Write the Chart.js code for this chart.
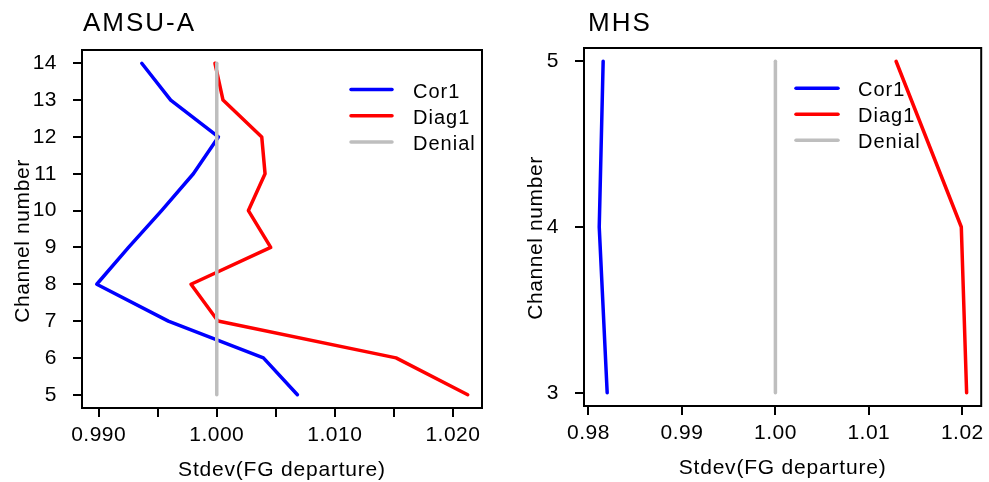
<!DOCTYPE html>
<html>
<head>
<meta charset="utf-8">
<script src="https://cdn.jsdelivr.net/npm/chart.js@4.4.1/dist/chart.umd.min.js"></script>
<style>
  html, body { margin: 0; padding: 0; background: #ffffff; }
  #wrap { position: relative; width: 989px; height: 482px; overflow: hidden; }
  .pane { position: absolute; top: 0; height: 482px; }
  #paneA { left: 0; width: 494px; }
  #paneB { left: 494px; width: 495px; }
</style>
</head>
<body>
<div id="wrap">
  <div class="pane" id="paneA"><canvas id="chartA"></canvas></div>
  <div class="pane" id="paneB"><canvas id="chartB"></canvas></div>
</div>
<script>
// ---------- data: AMSU-A ----------
const amsuChannels = [5, 6, 7, 8, 9, 10, 11, 12, 13, 14];
const amsuCor1   = [1.00683, 1.00395, 0.99590, 0.98984, 0.99253, 0.99533, 0.99802, 1.00014, 0.99610, 0.99365];
const amsuDiag1  = [1.02125, 1.01518, 1.00010, 0.99782, 1.00457, 1.00268, 1.00409, 1.00381, 1.00053, 0.99985];
const amsuDenial = [1.0, 1.0, 1.0, 1.0, 1.0, 1.0, 1.0, 1.0, 1.0, 1.0];
const amsuXTicks  = [0.990, 0.995, 1.000, 1.005, 1.010, 1.015, 1.020];
const amsuXLabels = ['0.990', '', '1.000', '', '1.010', '', '1.020'];
const amsuYTicks  = [5, 6, 7, 8, 9, 10, 11, 12, 13, 14];

// ---------- data: MHS ----------
const mhsChannels = [3, 4, 5];
const mhsCor1   = [0.98200, 0.98115, 0.98157];
const mhsDiag1  = [1.02046, 1.01989, 1.01291];
const mhsDenial = [1.0, 1.0, 1.0];
const mhsXTicks  = [0.98, 0.99, 1.00, 1.01, 1.02];
const mhsXLabels = ['0.98', '0.99', '1.00', '1.01', '1.02'];
const mhsYTicks  = [3, 4, 5];

const seriesNames  = ['Cor1', 'Diag1', 'Denial'];
const seriesColors = ['#0000FF', '#FF0000', '#BEBEBE'];

const FONT = '"Liberation Sans", Arial, Helvetica, sans-serif';

function pts(xs, ys) { return xs.map((x, i) => ({ x: x, y: ys[i] })); }

function makeChart(canvasId, cfg) {
  const datasets = cfg.series.map((vals, i) => ({
    label: seriesNames[i],
    data: pts(vals, cfg.channels),
    showLine: true,
    borderColor: seriesColors[i],
    backgroundColor: seriesColors[i],
    borderWidth: 3.5,
    pointRadius: 0,
    pointHoverRadius: 0,
    tension: 0,
    borderCapStyle: 'round',
    borderJoinStyle: 'round',
    order: 2 - i,
    clip: false
  }));

  const decor = {
    id: 'decor',
    beforeDraw(chart) { chart.ctx.letterSpacing = '0.5px'; },
    afterDraw(chart) {
      const ctx = chart.ctx;
      const a = chart.chartArea;
      ctx.save();
      ctx.letterSpacing = '0px';
      // box
      ctx.strokeStyle = '#000';
      ctx.lineWidth = 2;
      ctx.strokeRect(a.left, a.top, a.right - a.left, a.bottom - a.top);
      // title
      ctx.fillStyle = '#000';
      ctx.letterSpacing = '2px';
      ctx.font = '26px ' + FONT;
      ctx.textAlign = 'left';
      ctx.textBaseline = 'alphabetic';
      ctx.fillText(cfg.title, cfg.titleX, 31);
      // x axis title
      ctx.letterSpacing = '0.8px';
      ctx.font = '21px ' + FONT;
      ctx.textAlign = 'center';
      ctx.fillText('Stdev(FG departure)', (a.left + a.right) / 2, cfg.xTitleY);
      // y axis title
      ctx.save();
      ctx.translate(cfg.yTitleX, cfg.yTitleCY);
      ctx.rotate(-Math.PI / 2);
      ctx.letterSpacing = '0.6px';
      ctx.textAlign = 'center';
      ctx.fillText('Channel number', 0, 0);
      ctx.restore();
      // legend
      ctx.letterSpacing = '1px';
      ctx.font = '20px ' + FONT;
      ctx.textAlign = 'left';
      seriesNames.forEach((name, i) => {
        const y = cfg.legTop + i * cfg.legStep;
        ctx.strokeStyle = seriesColors[i];
        ctx.lineWidth = 3.5;
        ctx.lineCap = 'round';
        ctx.beginPath();
        ctx.moveTo(cfg.legX1, y);
        ctx.lineTo(cfg.legX2, y);
        ctx.stroke();
        ctx.fillStyle = '#000';
        ctx.fillText(name, cfg.legTextX, y + 8);
      });
      ctx.restore();
    }
  };

  return new Chart(document.getElementById(canvasId), {
    type: 'scatter',
    data: { datasets: datasets },
    plugins: [decor],
    options: {
      responsive: true,
      maintainAspectRatio: false,
      animation: false,
      events: [],
      layout: { padding: { left: 0, right: cfg.padRight, top: cfg.padTop, bottom: 0 } },
      plugins: { legend: { display: false }, tooltip: { enabled: false }, title: { display: false } },
      scales: {
        x: {
          type: 'linear',
          min: cfg.xMin, max: cfg.xMax,
          afterBuildTicks: s => { s.ticks = cfg.xTicks.map(v => ({ value: v })); },
          afterFit: s => { s.height = cfg.xAxisH; },
          border: { display: false },
          grid: { display: true, drawOnChartArea: false, drawTicks: true, tickLength: 9, tickWidth: 2, lineWidth: 2, tickColor: '#000', color: '#000' },
          ticks: {
            autoSkip: false, maxRotation: 0, minRotation: 0, padding: 6,
            color: '#000', font: { family: FONT, size: 21 },
            callback: (v, i) => cfg.xLabels[i]
          }
        },
        y: {
          type: 'linear',
          min: cfg.yMin, max: cfg.yMax,
          afterBuildTicks: s => { s.ticks = cfg.yTicks.map(v => ({ value: v })); },
          afterFit: s => { s.width = cfg.yAxisW; },
          border: { display: false },
          grid: { display: true, drawOnChartArea: false, drawTicks: true, tickLength: 9, tickWidth: 2, lineWidth: 2, tickColor: '#000', color: '#000' },
          ticks: {
            autoSkip: false, padding: 16,
            color: '#000', font: { family: FONT, size: 21 },
            callback: v => String(v)
          }
        }
      }
    }
  });
}

makeChart('chartA', {
  title: 'AMSU-A', titleX: 83,
  channels: amsuChannels,
  series: [amsuCor1, amsuDiag1, amsuDenial],
  xMin: 0.98859, xMax: 1.02246, yMin: 4.64, yMax: 14.36,
  xTicks: amsuXTicks, xLabels: amsuXLabels, yTicks: amsuYTicks,
  padTop: 50, padRight: 12, xAxisH: 74, yAxisW: 82,
  xTitleY: 476, yTitleX: 29, yTitleCY: 241,
  legTop: 89.5, legStep: 26.2, legX1: 351, legX2: 392, legTextX: 413
});

makeChart('chartB', {
  title: 'MHS', titleX: 94,
  channels: mhsChannels,
  series: [mhsCor1, mhsDiag1, mhsDenial],
  xMin: 0.97952, xMax: 1.02202, yMin: 2.92, yMax: 5.08,
  xTicks: mhsXTicks, xLabels: mhsXLabels, yTicks: mhsYTicks,
  padTop: 48, padRight: 5, xAxisH: 76, yAxisW: 90,
  xTitleY: 474, yTitleX: 48, yTitleCY: 238,
  legTop: 88.3, legStep: 26, legX1: 302, legX2: 344, legTextX: 364
});
</script>
</body>
</html>
